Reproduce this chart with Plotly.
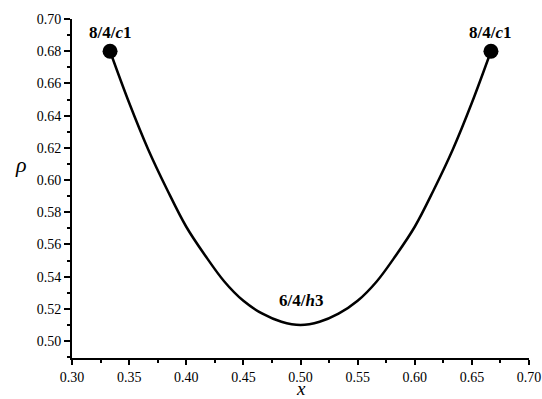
import plotly.graph_objects as go

# curve
x_curve = [0.3333, 0.35, 0.3667, 0.3833, 0.40, 0.4167, 0.4333, 0.45, 0.4667, 0.4833, 0.50,
           0.5167, 0.5333, 0.55, 0.5667, 0.5833, 0.60, 0.6167, 0.6333, 0.65, 0.6667]
y_curve = [0.680, 0.648, 0.619, 0.594, 0.571, 0.553, 0.537, 0.525, 0.517, 0.512, 0.510,
           0.512, 0.517, 0.525, 0.537, 0.553, 0.571, 0.594, 0.619, 0.648, 0.680]

# labelled points
pt_x = [0.3333, 0.6667]
pt_y = [0.680, 0.680]
labels = ["<b>8/4/<i>c</i>1</b>", "<b>8/4/<i>c</i>1</b>"]
min_x, min_y, min_label = 0.50, 0.510, "<b>6/4/<i>h</i>3</b>"

font_family = "Liberation Serif, Times New Roman, serif"

fig = go.Figure()
fig.add_trace(go.Scatter(x=x_curve, y=y_curve, mode="lines", line=dict(color="black", width=2.5, shape="spline"),
                         hoverinfo="skip", showlegend=False))
fig.add_trace(go.Scatter(x=pt_x, y=pt_y, mode="markers", marker=dict(color="black", size=15),
                         showlegend=False))

for xv, yv, t in zip(pt_x, pt_y, labels):
    fig.add_annotation(x=xv, y=yv, text=t, showarrow=False, yshift=19,
                       font=dict(family=font_family, size=17, color="black"))
fig.add_annotation(x=min_x, y=min_y, text=min_label, showarrow=False, yshift=24,
                   font=dict(family=font_family, size=17, color="black"))

# axis titles
fig.add_annotation(xref="paper", yref="paper", x=0.5, y=-0.121, yanchor="bottom", yshift=-1, text="<i>x</i>",
                   showarrow=False, borderpad=0, font=dict(family=font_family, size=19, color="black"))
fig.add_annotation(xref="paper", yref="paper", x=-0.112, y=0.57, xanchor="center", yanchor="middle",
                   text="<i>ρ</i>", showarrow=False, font=dict(family=font_family, size=22, color="black"))

fig.update_layout(
    width=542, height=399,
    margin=dict(l=72, r=13, t=19, b=41),
    plot_bgcolor="white", paper_bgcolor="white",
    font=dict(family=font_family, size=14, color="black"),
    xaxis=dict(range=[0.30, 0.70], dtick=0.05, tick0=0.30, tickformat=".2f", automargin=False,
               showgrid=False, zeroline=False, showline=True, linecolor="black", linewidth=2,
               ticks="outside", ticklen=5, tickwidth=2, tickcolor="black",
               minor=dict(ticks="outside", ticklen=3, tickwidth=1.5, tickcolor="black", dtick=0.025, showgrid=False)),
    yaxis=dict(range=[0.4895, 0.70], dtick=0.02, tick0=0.50, tickformat=".2f", automargin=False,
               showgrid=False, zeroline=False, showline=True, linecolor="black", linewidth=2,
               ticks="outside", ticklen=6, tickwidth=2, tickcolor="black",
               minor=dict(ticks="outside", ticklen=3, tickwidth=1.5, tickcolor="black", dtick=0.01, showgrid=False)),
)

fig.write_html("out.html")
